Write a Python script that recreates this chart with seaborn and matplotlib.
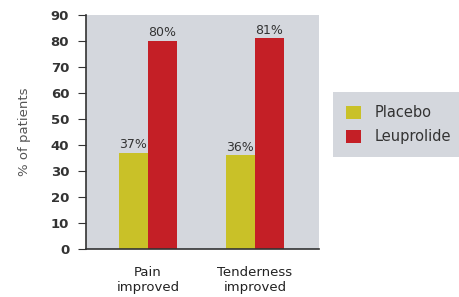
import pandas as pd
import matplotlib.pyplot as plt
import seaborn as sns

categories = ["Pain\nimproved", "Tenderness\nimproved"]
groups = ["Placebo", "Leuprolide"]
placebo = [37, 36]
leuprolide = [80, 81]
yticks = list(range(0, 100, 10))

df = pd.DataFrame({
    "category": categories * 2,
    "group": [groups[0]] * 2 + [groups[1]] * 2,
    "value": placebo + leuprolide,
})

sns.set_style("white")
plt.rcParams["font.family"] = ["DejaVu Sans"]

fig = plt.figure(figsize=(4.59, 2.97), dpi=100)
ax = fig.add_axes([0.187, 0.162, 0.508, 0.788])
ax.set_facecolor("#d4d7dd")

palette = {"Placebo": "#c9c128", "Leuprolide": "#c41f26"}
sns.barplot(data=df, x="category", y="value", hue="group", hue_order=groups,
            palette=palette, width=0.54, saturation=1, linewidth=0,
            edgecolor="none", ax=ax)

for cont in ax.containers:
    ax.bar_label(cont, labels=[f"{v:.0f}%" for v in cont.datavalues],
                 padding=1, fontsize=9, color="#333333")

ax.set_xlim(-0.58, 1.6)
ax.set_ylim(0, 90)
ax.set_yticks(yticks)
ax.tick_params(axis="y", length=6, width=0.8, color="#333333", labelsize=9.5,
               labelcolor="#333333", pad=6, left=True)
ax.tick_params(axis="x", length=0, labelsize=9.5, labelcolor="#222222", pad=12)
for lbl in ax.get_yticklabels():
    lbl.set_fontweight("bold")
ax.set_xlabel("")
ax.set_ylabel("% of patients", fontsize=9.5, color="#555555", labelpad=14)

for s in ["top", "right"]:
    ax.spines[s].set_visible(False)
ax.spines["left"].set_color("#333333")
ax.spines["bottom"].set_color("#333333")
ax.spines["left"].set_linewidth(1.2)
ax.spines["bottom"].set_linewidth(1.2)

leg = ax.legend(loc="center left", bbox_to_anchor=(1.03, 0.53), frameon=True,
                fontsize=10.5, handlelength=1.0, handleheight=1.0,
                handletextpad=0.9, labelspacing=0.6, borderpad=0.9)
leg.get_frame().set_facecolor("#d4d7dd")
leg.get_frame().set_edgecolor("none")
leg.get_frame().set_alpha(1)
leg.get_frame().set_boxstyle("square", pad=0)
for t in leg.get_texts():
    t.set_color("#333333")

fig.savefig("out.png", dpi=100)
